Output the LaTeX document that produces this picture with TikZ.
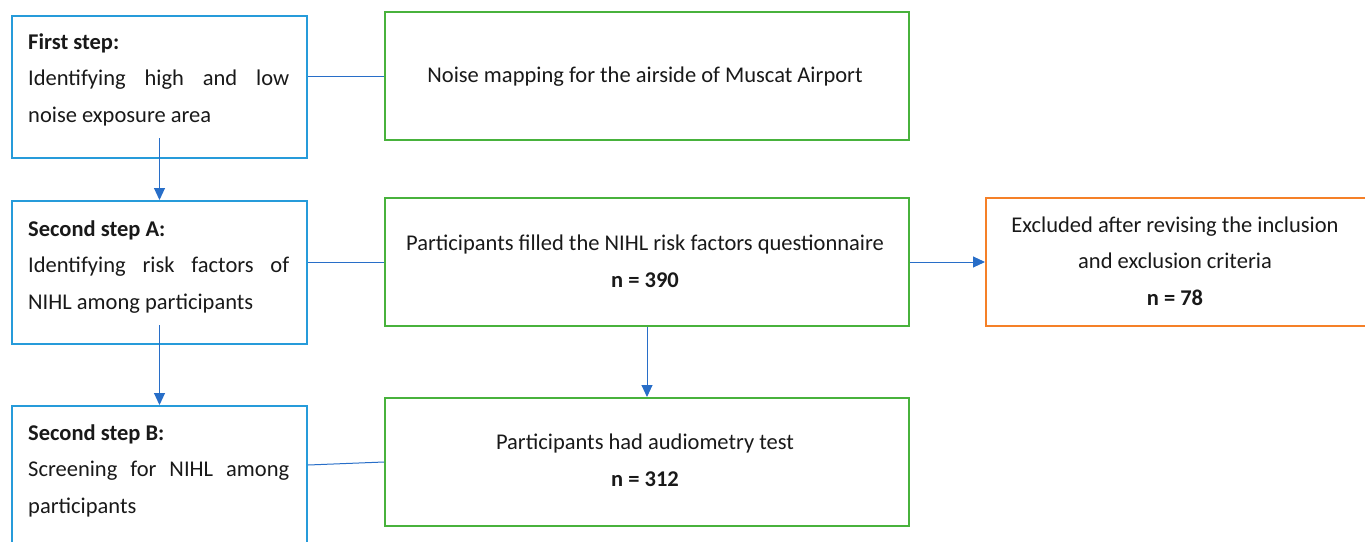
\documentclass[tikz,border=0pt]{standalone}
\usepackage{fontspec}
\setmainfont{Carlito}
\usetikzlibrary{arrows.meta,calc}
\definecolor{boxblue}{RGB}{38,155,218}
\definecolor{linkblue}{RGB}{40,110,200}
\definecolor{boxgreen}{RGB}{72,178,60}
\definecolor{boxorange}{RGB}{245,128,40}
\definecolor{txt}{RGB}{25,25,25}
\tikzset{
  lbox/.style={draw=boxblue,line width=2pt,rectangle,inner sep=0pt,anchor=north west,minimum width=295pt},
  gbox/.style={draw=boxgreen,line width=2pt,rectangle,inner sep=0pt,anchor=north west,minimum width=524pt,minimum height=128pt},
  obox/.style={draw=boxorange,line width=2pt,rectangle,inner sep=0pt,anchor=north west,minimum width=390pt,minimum height=128pt},
  ltext/.style={inner sep=0pt,anchor=base west,text=txt,font=\fontsize{22.5pt}{36.5pt}\selectfont,align=left},
  ctext/.style={inner sep=0pt,anchor=base,text=txt,font=\fontsize{22.5pt}{36.5pt}\selectfont,align=center},
  link/.style={draw=linkblue,line width=1pt},
  arr/.style={link,-{Triangle[width=11pt,length=12pt]}},
}
\newcommand{\jline}[1]{\makebox[261pt][s]{#1}}
\begin{document}
\begin{tikzpicture}[x=1pt,y=-1pt]
\useasboundingbox (0,0) rectangle (1365,541);
\clip (0,0) rectangle (1365,541);
% left boxes
\node[lbox,minimum height=142pt] (b1) at (11,15) {};
\node[lbox,minimum height=143pt] (b2) at (11,200) {};
\node[lbox,minimum height=160pt] (b3) at (11,405) {};
\node[ltext] (t1) at (28,122) {\textbf{First step:}\\\jline{Identifying high and low}\\noise exposure area};
\node[ltext] (t2) at (28,309) {\textbf{Second step A:}\\\jline{Identifying risk factors of}\\NIHL among participants};
\node[ltext] (t3) at (28,513) {\textbf{Second step B:}\\\jline{Screening for NIHL among}\\participants};
% green boxes
\node[gbox] (g1) at (384,11) {};
\node[gbox] (g2) at (384,197) {};
\node[gbox] (g3) at (384,397) {};
\node[obox] (o1) at (985,197) {};
\node[ctext] (gt1) at (645,82) {Noise mapping for the airside of Muscat Airport};
\node[ctext] (gt2) at (645,287) {Participants filled the NIHL risk factors questionnaire\\\textbf{n = 390}};
\node[ctext] (gt3) at (645,486) {Participants had audiometry test\\\textbf{n = 312}};
\node[ctext] (ot1) at (1175,305) {Excluded after revising the inclusion\\and exclusion criteria\\\textbf{n = 78}};
% connectors
\draw[link] (b1.east |- g1.west) -- (g1.west);
\draw[link] (b2.east |- g2.west) -- (g2.west);
\draw[link] ($(b3.north east)+(0,60)$) -- (g3.west);
\draw[arr] ($(b1.south)+(0,-21)$) -- (b2.north);
\draw[arr] ($(b2.south)+(0,-20)$) -- (b3.north);
\draw[arr] (g2.south) -- (g3.north);
\draw[arr] (g2.east) -- (o1.west);
\end{tikzpicture}
\end{document}
